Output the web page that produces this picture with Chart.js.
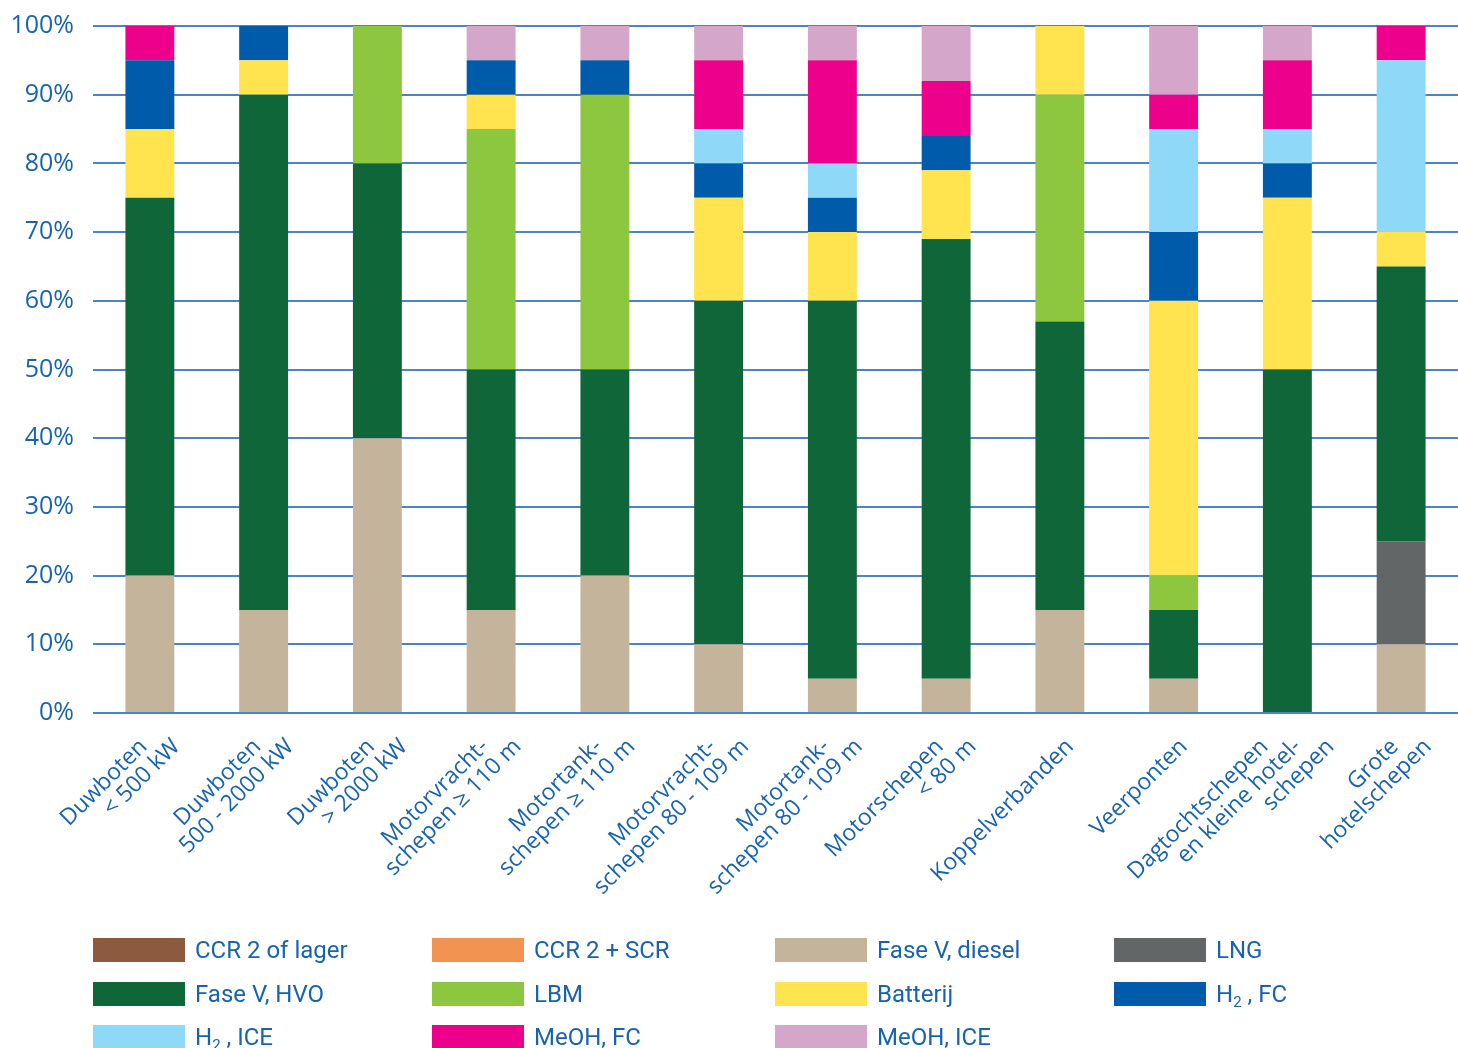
<!DOCTYPE html>
<html>
<head>
<meta charset="utf-8">
<script src="https://cdn.jsdelivr.net/npm/chart.js@4.4.1/dist/chart.umd.min.js"></script>
<style>
  html, body { margin: 0; padding: 0; background: #fff; }
  #wrap { position: relative; width: 1458px; height: 1048px; overflow: hidden; }
  #chart { position: absolute; left: 0; top: 0; }
  .leg { position: absolute; display: flex; align-items: center; font-family: Roboto, "Liberation Sans", sans-serif; font-size: 24px; color: #1763b0; white-space: nowrap; }
  .leg span.sw { display: inline-block; width: 92px; height: 24px; margin-right: 10px; }
  .leg sub { font-size: 15px; vertical-align: -5px; line-height: 0; }
</style>
</head>
<body>
<div id="wrap">
  <canvas id="chart" width="1458" height="1048"></canvas>
  <div id="legend"></div>
</div>
<script>
const categorias = [
    ['Duwboten', '< 500 kW'],
    ['Duwboten', '500 - 2000 kW'],
    ['Duwboten', '> 2000 kW'],
    ['Motorvracht-', 'schepen ≥ 110 m'],
    ['Motortank-', 'schepen ≥ 110 m'],
    ['Motorvracht-', 'schepen 80 - 109 m'],
    ['Motortank-', 'schepen 80 - 109 m'],
    ['Motorschepen', '< 80 m'],
    ['Koppelverbanden'],
    ['Veerponten'],
    ['Dagtochtschepen', 'en kleine hotel-', 'schepen'],
    ['Grote', 'hotelschepen']
];

const yTicks = [0, 10, 20, 30, 40, 50, 60, 70, 80, 90, 100];

const ccrLager   = [0, 0, 0, 0, 0, 0, 0, 0, 0, 0, 0, 0];
const ccrScr     = [0, 0, 0, 0, 0, 0, 0, 0, 0, 0, 0, 0];
const faseDiesel = [20, 15, 40, 15, 20, 10, 5, 5, 15, 5, 0, 10];
const lng        = [0, 0, 0, 0, 0, 0, 0, 0, 0, 0, 0, 15];
const faseHvo    = [55, 75, 40, 35, 30, 50, 55, 64, 42, 10, 50, 40];
const lbm        = [0, 0, 20, 35, 40, 0, 0, 0, 33, 5, 0, 0];
const batterij   = [10, 5, 0, 5, 0, 15, 10, 10, 10, 40, 25, 5];
const h2Fc       = [10, 5, 0, 5, 5, 5, 5, 5, 0, 10, 5, 0];
const h2Ice      = [0, 0, 0, 0, 0, 5, 5, 0, 0, 15, 5, 25];
const meohFc     = [5, 0, 0, 0, 0, 10, 15, 8, 0, 5, 10, 5];
const meohIce    = [0, 0, 0, 5, 5, 5, 5, 8, 0, 10, 5, 0];

const series = [
    { label: 'CCR 2 of lager', html: 'CCR 2 of lager', data: ccrLager, cor: '#8b5a3f' },
    { label: 'CCR 2 + SCR', html: 'CCR 2 + SCR', data: ccrScr, cor: '#f29352' },
    { label: 'Fase V, diesel', html: 'Fase V, diesel', data: faseDiesel, cor: '#c4b49b' },
    { label: 'LNG', html: 'LNG', data: lng, cor: '#626666' },
    { label: 'Fase V, HVO', html: 'Fase V, HVO', data: faseHvo, cor: '#0f6639' },
    { label: 'LBM', html: 'LBM', data: lbm, cor: '#8dc63f' },
    { label: 'Batterij', html: 'Batterij', data: batterij, cor: '#ffe44f' },
    { label: 'H2 , FC', html: 'H<sub>2</sub> , FC', data: h2Fc, cor: '#005bab' },
    { label: 'H2 , ICE', html: 'H<sub>2</sub> , ICE', data: h2Ice, cor: '#8ed8f8' },
    { label: 'MeOH, FC', html: 'MeOH, FC', data: meohFc, cor: '#ec008c' },
    { label: 'MeOH, ICE', html: 'MeOH, ICE', data: meohIce, cor: '#d4a7ca' }
];

const azul = '#1763b0';

const labelsRotacionados = {
    id: 'labelsRotacionados',
    afterDraw(chart) {
        const ctx = chart.ctx;
        const xScale = chart.scales.x;
        const topo = chart.chartArea.bottom + 22;
        ctx.save();
        ctx.fillStyle = azul;
        ctx.font = '23px "Open Sans"';
        ctx.textAlign = 'right';
        ctx.textBaseline = 'top';
        for (let i = 0; i < categorias.length; i++) {
            const linhas = categorias[i];
            const centro = xScale.getPixelForTick(i) + 2;
            for (let j = 0; j < linhas.length; j++) {
                const x = centro + (j - (linhas.length - 1) / 2) * 33;
                ctx.save();
                ctx.translate(x, topo);
                ctx.rotate(-Math.PI / 4);
                ctx.fillText(linhas[j], 0, 0);
                ctx.restore();
            }
        }
        ctx.restore();
    }
};

function desenhar() {
    new Chart(document.getElementById('chart'), {
        type: 'bar',
        data: {
            labels: categorias,
            datasets: series.map(s => ({
                label: s.label,
                data: s.data,
                backgroundColor: s.cor,
                borderWidth: 0,
                barPercentage: 0.43,
                categoryPercentage: 1
            }))
        },
        options: {
            responsive: false,
            animation: false,
            events: [],
            layout: { padding: { top: 26, right: 0, bottom: 0, left: 0 } },
            plugins: {
                legend: { display: false },
                tooltip: { enabled: false }
            },
            scales: {
                x: {
                    stacked: true,
                    grid: { display: false },
                    border: { display: false },
                    ticks: { display: false },
                    afterFit: (scale) => { scale.height = 335; }
                },
                y: {
                    stacked: true,
                    min: 0,
                    max: 100,
                    afterBuildTicks: (scale) => { scale.ticks = yTicks.map(v => ({ value: v })); },
                    afterFit: (scale) => { scale.width = 93; },
                    grid: { color: '#4a84c4', lineWidth: 2, drawTicks: true, tickLength: 17, tickColor: 'rgba(0,0,0,0)' },
                    border: { display: false },
                    ticks: {
                        color: azul,
                        padding: 2,
                        font: { family: 'Open Sans', size: 25 },
                        callback: (v) => v + '%'
                    }
                }
            }
        },
        plugins: [labelsRotacionados]
    });
}

// legenda em html
const legenda = document.getElementById('legend');
const colunasX = [93, 432, 775, 1114];
const linhasY = [938, 982, 1025];
for (let i = 0; i < series.length; i++) {
    const s = series[i];
    const div = document.createElement('div');
    div.className = 'leg';
    div.style.left = colunasX[i % 4] + 'px';
    div.style.top = linhasY[Math.floor(i / 4)] + 'px';
    div.style.height = '24px';
    div.innerHTML = `<span class="sw" style="background:${s.cor}"></span><span>${s.html}</span>`;
    legenda.appendChild(div);
}

Promise.all([
    document.fonts.load('23px "Open Sans"'),
    document.fonts.load('25px "Open Sans"')
]).then(desenhar, desenhar);
</script>
</body>
</html>
